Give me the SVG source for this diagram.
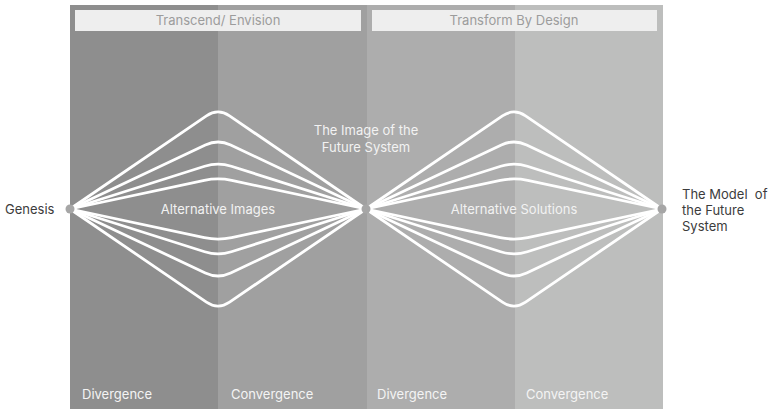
<svg xmlns="http://www.w3.org/2000/svg" xmlns:xlink="http://www.w3.org/1999/xlink" width="768" height="409" viewBox="0 0 768 409">
  <style>
    text { font-family: Inter, "Noto Sans", "Liberation Sans", sans-serif; font-size: 13px; white-space: pre; }
    .hdr { fill: #eeeeee; }
    .hdr-t { fill: #9c9c9c; text-anchor: middle; }
    .phase { fill: #f4f4f4; }
    .inner { fill: #f2f2f2; text-anchor: middle; }
    .outer { fill: #3c3c3c; }
    .fan path { fill: none; stroke: #ffffff; stroke-width: 2.8; stroke-linecap: round; }
    .dot { fill: #a6a6a6; }
  </style>
  <defs>
    <!-- eight routes that split at the start point and meet again at the end point -->
    <g id="fan-shape" class="fan">
      <path d="M70 209 L206.44 115.89 Q218 108 229.56 115.89 L366 209"/>
      <path d="M70 209 L205.34 144.99 Q218 139 230.66 144.99 L366 209"/>
      <path d="M70 209 L204.66 166.24 Q218 162 231.34 166.24 L366 209"/>
      <path d="M70 209 L204.31 180.41 Q218 177.5 231.69 180.41 L366 209"/>
      <path d="M70 209 L204.31 237.59 Q218 240.5 231.69 237.59 L366 209"/>
      <path d="M70 209 L205.34 273.01 Q218 279 230.66 273.01 L366 209"/>
      <path d="M70 209 L204.66 251.76 Q218 256 231.34 251.76 L366 209"/>
      <path d="M70 209 L206.44 302.11 Q218 310 229.56 302.11 L366 209"/>
    </g>
  </defs>

  <rect width="768" height="409" fill="#ffffff"/>

  <!-- phase bands -->
  <g id="bands">
    <rect x="70" y="5" width="148" height="404" fill="#8e8e8e"/>
    <rect x="218" y="5" width="149" height="404" fill="#a0a0a0"/>
    <rect x="367" y="5" width="148" height="404" fill="#adadad"/>
    <rect x="515" y="5" width="148" height="404" fill="#bdbebd"/>
  </g>

  <g id="header-transcend">
    <rect class="hdr" x="75" y="10" width="286" height="21"/>
    <text class="hdr-t" x="218" y="25">Transcend/ Envision</text>
  </g>
  <g id="header-transform">
    <rect class="hdr" x="372" y="10" width="285" height="21"/>
    <text class="hdr-t" x="514" y="25">Transform By Design</text>
  </g>

  <g id="connectors">
    <use xlink:href="#fan-shape" href="#fan-shape"/>
    <use xlink:href="#fan-shape" href="#fan-shape" x="296"/>
  </g>

  <g id="genesis">
    <circle class="dot" cx="70" cy="209" r="4.5"/>
    <text class="outer" x="5" y="214">Genesis</text>
  </g>
  <g id="image-of-future-system">
    <circle class="dot" cx="366" cy="209" r="4.5"/>
    <text class="inner" x="366" y="135">The Image of the</text>
    <text class="inner" x="366" y="152">Future System</text>
  </g>
  <g id="model-of-future-system">
    <circle class="dot" cx="662" cy="209" r="4.5"/>
    <text class="outer" x="682" y="199">The Model  of</text>
    <text class="outer" x="682" y="215">the Future</text>
    <text class="outer" x="682" y="231">System</text>
  </g>
  <g id="alternative-images">
    <text class="inner" x="218" y="214">Alternative Images</text>
  </g>
  <g id="alternative-solutions">
    <text class="inner" x="514" y="214">Alternative Solutions</text>
  </g>

  <g id="phase-labels">
    <text class="phase" x="82" y="399">Divergence</text>
    <text class="phase" x="231" y="399">Convergence</text>
    <text class="phase" x="377" y="399">Divergence</text>
    <text class="phase" x="526" y="399">Convergence</text>
  </g>
</svg>
